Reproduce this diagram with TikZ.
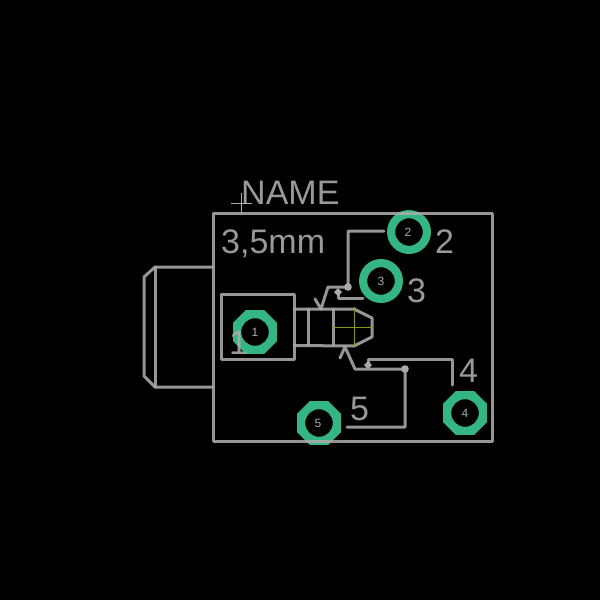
\documentclass[tikz,border=0pt]{standalone}
\usepackage{fontspec}
\setmainfont{Liberation Sans}
\definecolor{ln}{RGB}{170,170,170}
\definecolor{padc}{RGB}{52,181,132}
\definecolor{oliv}{RGB}{140,150,30}
\tikzset{
  outl/.style={draw=ln,line width=3pt,line cap=round,line join=round,opacity=.88},
  big/.style={text=ln,font=\fontsize{34}{34}\selectfont,inner sep=0pt,anchor=base west,opacity=.9},
  padnum/.style={text=ln,font=\fontsize{12}{12}\selectfont,inner sep=0pt},
  dotc/.style={fill=ln,draw=none}
}
\newcommand{\octpad}[2]{\fill[padc,even odd rule] (#1,#2) +(22.5:23.8) -- +(67.5:23.8) -- +(112.5:23.8) -- +(157.5:23.8) -- +(202.5:23.8) -- +(247.5:23.8) -- +(292.5:23.8) -- +(337.5:23.8) -- cycle (#1,#2) circle (13.8);}
\begin{document}
\begin{tikzpicture}[x=1pt,y=-1pt]
\useasboundingbox[fill=black] (0,0) rectangle (600,600);
% pads
\octpad{255}{332}
\octpad{319}{423}
\octpad{465}{413}
\fill[padc,even odd rule] (409,232) circle (22) circle (13.8);
\fill[padc,even odd rule] (381,281) circle (22) circle (13.8);
% body
\draw[outl] (213,213) rectangle (492,441);
\draw[outl] (213,267) -- (155,267) -- (144,277) -- (144,376) -- (155,387) -- (213,387);
\draw[outl] (155,267) -- (155,387);
\draw[outl] (221,294) rectangle (294,359);
% jack
\draw[outl] (294,309) -- (354,309) -- (372,318) -- (372,337) -- (354,346) -- (294,345.5);
\draw[outl] (308,309) -- (308,345);
\draw[outl] (333,309) -- (333,345);
% contacts
\draw[outl] (315,299) -- (321,309) -- (328,287) -- (348,287) -- (348,231) -- (384,231);
\draw[outl] (338,292) -- (338,298) -- (363,298);
\draw[outl] (340,358) -- (345,347) -- (355,369) -- (405,369) -- (405,427) -- (347,427);
\draw[outl] (368,365) -- (368,359) -- (452,359) -- (452,385);
\fill[dotc] (348,287) circle (3.8);
\fill[dotc] (405,369) circle (3.8);
\fill[dotc] (338,288) -- (342,292) -- (338,296) -- (334,292) -- cycle;
\fill[dotc] (368,361) -- (372,365) -- (368,369) -- (364,365) -- cycle;
% centre cross
\draw[oliv,line width=1pt] (354,307) -- (354,347);
\draw[oliv,line width=1pt] (333,327) -- (373,327);
% origin cross
\draw[ln,line width=.8pt] (231,203) -- (252,203);
\draw[ln,line width=.8pt] (241.5,193) -- (241.5,213);
% labels
\node[big] (name) at (241,204) {NAME};
\node[big] (value) at (221,253) {3,5mm};
\node[big] (l1) at (229,354) {1};
\node[big] (l2) at (435,253) {2};
\node[big] (l3) at (407,302) {3};
\node[big] (l4) at (459,382) {4};
\node[big] (l5) at (350,420) {5};
\node[padnum] (p1) at (255,332) {1};
\node[padnum] (p2) at (408,232) {2};
\node[padnum] (p3) at (381,281) {3};
\node[padnum] (p4) at (465,413) {4};
\node[padnum] (p5) at (318,423) {5};
\end{tikzpicture}
\end{document}
